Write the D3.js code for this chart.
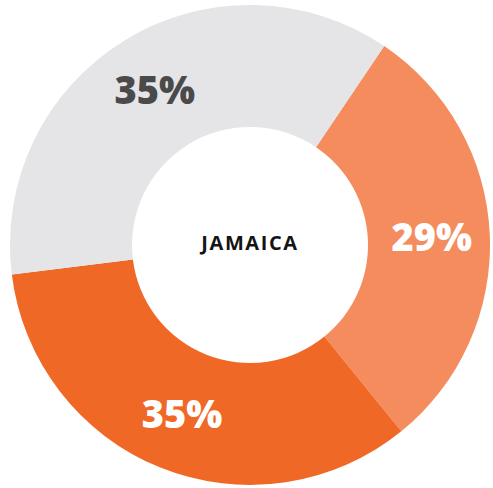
<!DOCTYPE html>
<meta charset="utf-8">
<script src="https://cdn.jsdelivr.net/npm/d3@7"></script>
<style>
  body { margin: 0; background: #fff; }
  .pct { font-family: "Open Sans", sans-serif; font-weight: 800; font-size: 38px; }
  .country { font-family: "Open Sans", sans-serif; font-weight: 700; font-size: 20px; letter-spacing: 1.6px; fill: #141414; }
</style>
<body>
<div id="chart"></div>
<script>
  // slices in clockwise order starting from the upper right
  // arc sizes, printed labels as shown
  var labels = ["29%", "35%", "35%"];
  var values = [29.7, 33.9, 36.4];
  var colors = ["#F48C5E", "#F06826", "#E5E5E7"];
  var textColors = ["#ffffff", "#ffffff", "#4a4a4a"];
  var centerLabel = "JAMAICA";

  var width = 493, height = 488;
  var cx = 250, cy = 245;
  var outerR = 240, innerR = 118;

  var svg = d3.select("#chart").append("svg")
      .attr("width", width)
      .attr("height", height);

  var g = svg.append("g")
      .attr("transform", "translate(" + cx + "," + cy + ")");

  var start = 34 * Math.PI / 180;
  var pie = d3.pie().sort(null)
      .startAngle(start)
      .endAngle(start + 2 * Math.PI);

  var arc = d3.arc().innerRadius(innerR).outerRadius(outerR);

  var arcs = pie(values);

  g.selectAll("path")
      .data(arcs)
      .enter().append("path")
      .attr("d", arc)
      .attr("fill", function(d, i) { return colors[i]; });

  var labelArc = d3.arc().innerRadius(182).outerRadius(182);

  g.selectAll("text.pct")
      .data(arcs)
      .enter().append("text")
      .attr("class", "pct")
      .attr("transform", function(d) { return "translate(" + labelArc.centroid(d) + ")"; })
      .attr("text-anchor", "middle")
      .attr("dy", "0.36em")
      .attr("fill", function(d, i) { return textColors[i]; })
      .text(function(d, i) { return labels[i]; });

  g.append("text")
      .attr("class", "country")
      .attr("text-anchor", "middle")
      .attr("y", -2)
      .attr("dy", "0.36em")
      .text(centerLabel);
</script>
</body>
